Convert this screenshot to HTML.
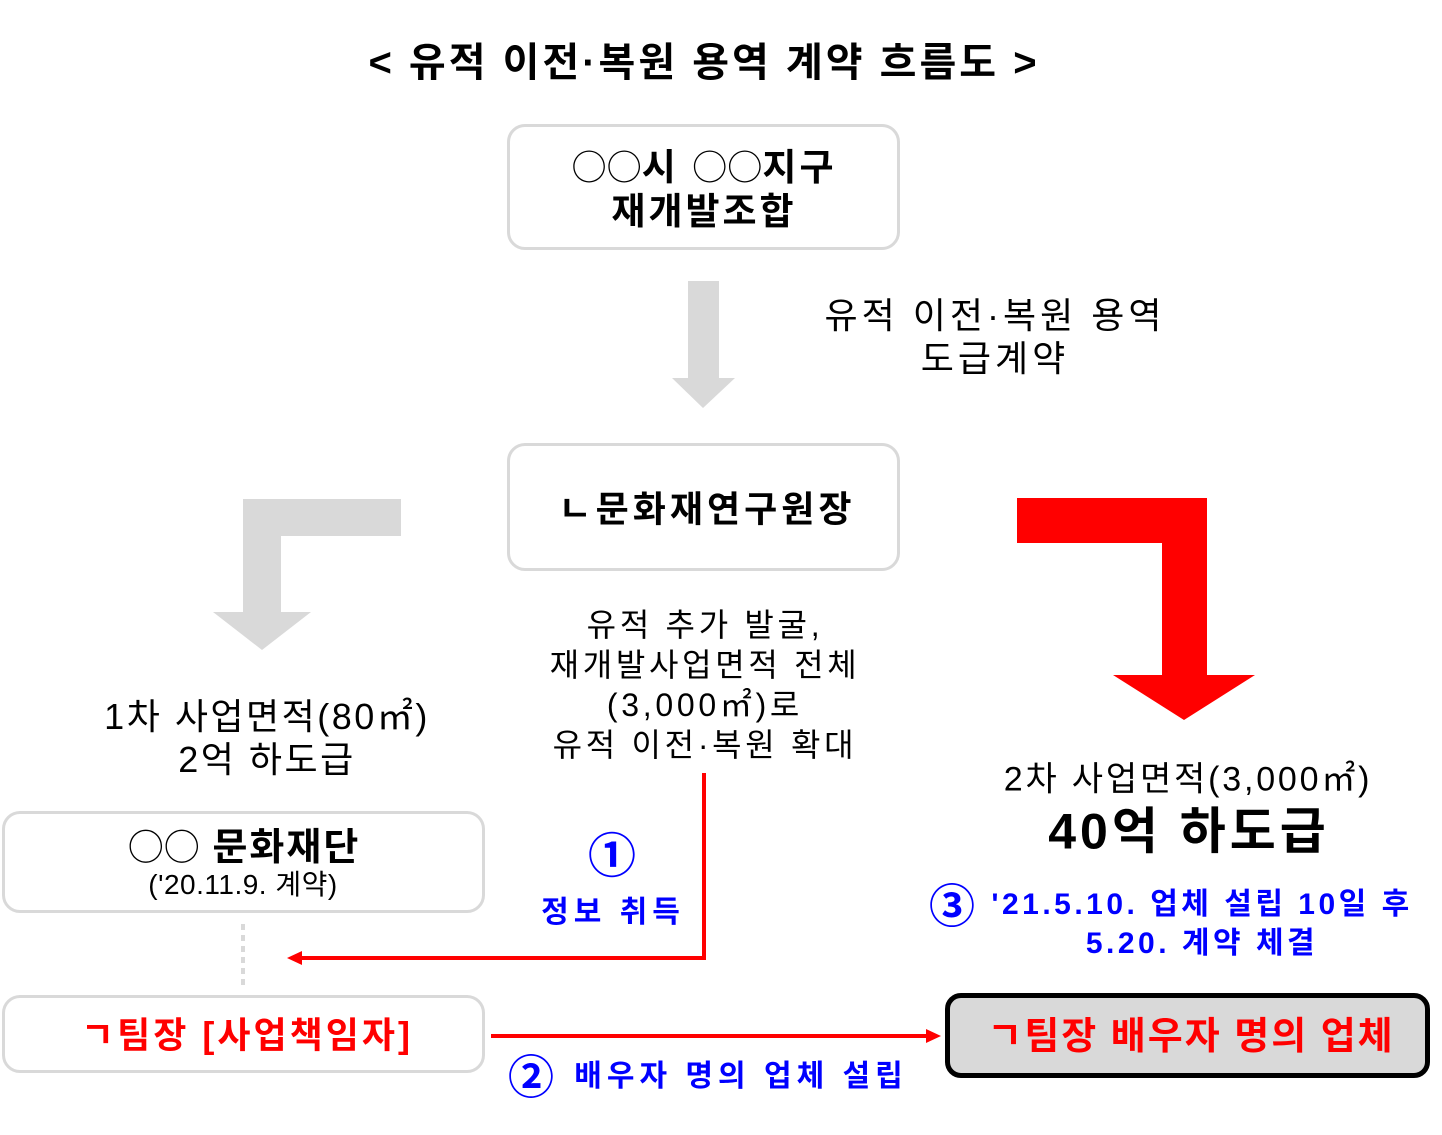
<!DOCTYPE html>
<html><head><meta charset="utf-8"><style>
body{margin:0;width:1442px;height:1135px;background:#fff;position:relative;overflow:hidden;font-family:"Liberation Sans","Noto Sans CJK KR",sans-serif;}
.t{position:absolute;white-space:nowrap;text-align:center;transform:translate(-50%,-50%);line-height:1.15}
.box{position:absolute;box-sizing:border-box;border:3px solid #d9d9d9;border-radius:18px;background:#fff}
.b{font-weight:bold}
.blue{color:#0000ff;font-weight:bold}
.red{color:#ff0000;font-weight:bold}
.c{font-family:"Noto Sans CJK KR",sans-serif;font-weight:normal;font-size:0.95em;letter-spacing:0}
.n{font-family:"Noto Sans CJK KR",sans-serif;}
</style></head><body>
<svg width="1442" height="1135" style="position:absolute;left:0;top:0">
<polygon points="688,281 719,281 719,378 735,378 703,408 672,378 688,378" fill="#d9d9d9"/>
<polygon points="401,499 401,536 281,536 281,612 311,612 262,650 213,612 243,612 243,499" fill="#d9d9d9"/>
<polygon points="1017,498 1207,498 1207,675 1255,675 1184,720 1113,675 1162,675 1162,543 1017,543" fill="#ff0000"/>
<line x1="243" y1="924" x2="243" y2="988" stroke="#d9d9d9" stroke-width="4" stroke-dasharray="6,5"/>
<polyline points="704,773 704,958 300,958" fill="none" stroke="#ff0000" stroke-width="4"/>
<polygon points="287,958 302,951 302,965" fill="#ff0000"/>
<line x1="491" y1="1036" x2="928" y2="1036" stroke="#ff0000" stroke-width="4"/>
<polygon points="941,1036 926,1029 926,1043" fill="#ff0000"/>
</svg>
<div class="t b" style="left:704px;top:63px;font-size:40px;letter-spacing:3px">&lt; 유적 이전·복원 용역 계약 흐름도 &gt;</div>
<div class="box" style="left:507px;top:124px;width:393px;height:126px"></div>
<div class="t b" style="left:704px;top:189px;font-size:37px;line-height:44px;letter-spacing:3px"><span class="c">○○</span>시 <span class="c">○○</span>지구<br>재개발조합</div>
<div class="t" style="left:995px;top:337px;font-size:36px;line-height:43px;letter-spacing:4px">유적 이전·복원 용역<br>도급계약</div>
<div class="box" style="left:507px;top:443px;width:393px;height:128px"></div>
<div class="t b" style="left:707px;top:509px;font-size:36px;letter-spacing:4px">ㄴ문화재연구원장</div>
<div class="t" style="left:705px;top:685px;font-size:32px;line-height:40px;letter-spacing:3.7px">유적 추가 발굴,<br>재개발사업면적 전체<br>(3,000㎡)로<br>유적 이전·복원 확대</div>
<div class="t" style="left:267px;top:738px;font-size:36px;line-height:43px;letter-spacing:2.5px">1차 사업면적(80㎡)<br>2억 하도급</div>
<div class="t" style="left:1188px;top:780px;font-size:34px;letter-spacing:2.8px">2차 사업면적(3,000㎡)</div>
<div class="t b" style="left:1189px;top:832px;font-size:50px;letter-spacing:4px">40억 하도급</div>
<div class="box" style="left:2px;top:811px;width:483px;height:102px"></div>
<div class="t b" style="left:244px;top:848px;font-size:38px;letter-spacing:2px"><span class="c">○○</span> 문화재단</div>
<div class="t" style="left:243px;top:885px;font-size:28px;letter-spacing:0.5px">('20.11.9. 계약)</div>
<div class="box" style="left:2px;top:995px;width:483px;height:78px"></div>
<div class="t red" style="left:247px;top:1035px;font-size:36px;letter-spacing:3px">ㄱ팀장 [사업책임자]</div>
<div class="t blue n" style="left:612px;top:852px;font-size:48px;font-weight:bold">①</div>
<div class="t blue" style="left:613px;top:913px;font-size:30px;letter-spacing:5px">정보 취득</div>
<div class="t blue n" style="left:531px;top:1075px;font-size:46px;font-weight:bold">②</div>
<div class="t blue" style="left:741px;top:1077px;font-size:30px;letter-spacing:5px">배우자 명의 업체 설립</div>
<div class="t blue n" style="left:952px;top:904px;font-size:46px;font-weight:bold">③</div>
<div class="t blue" style="left:1202px;top:905px;font-size:30px;letter-spacing:3.5px">'21.5.10. 업체 설립 10일 후</div>
<div class="t blue" style="left:1202px;top:944px;font-size:30px;letter-spacing:3.5px">5.20. 계약 체결</div>
<div class="box" style="left:945px;top:993px;width:485px;height:85px;border:5px solid #000;background:#d9d9d9;border-radius:16px"></div>
<div class="t red" style="left:1191px;top:1038px;font-size:38px;letter-spacing:2px">ㄱ팀장 배우자 명의 업체</div>
</body></html>
